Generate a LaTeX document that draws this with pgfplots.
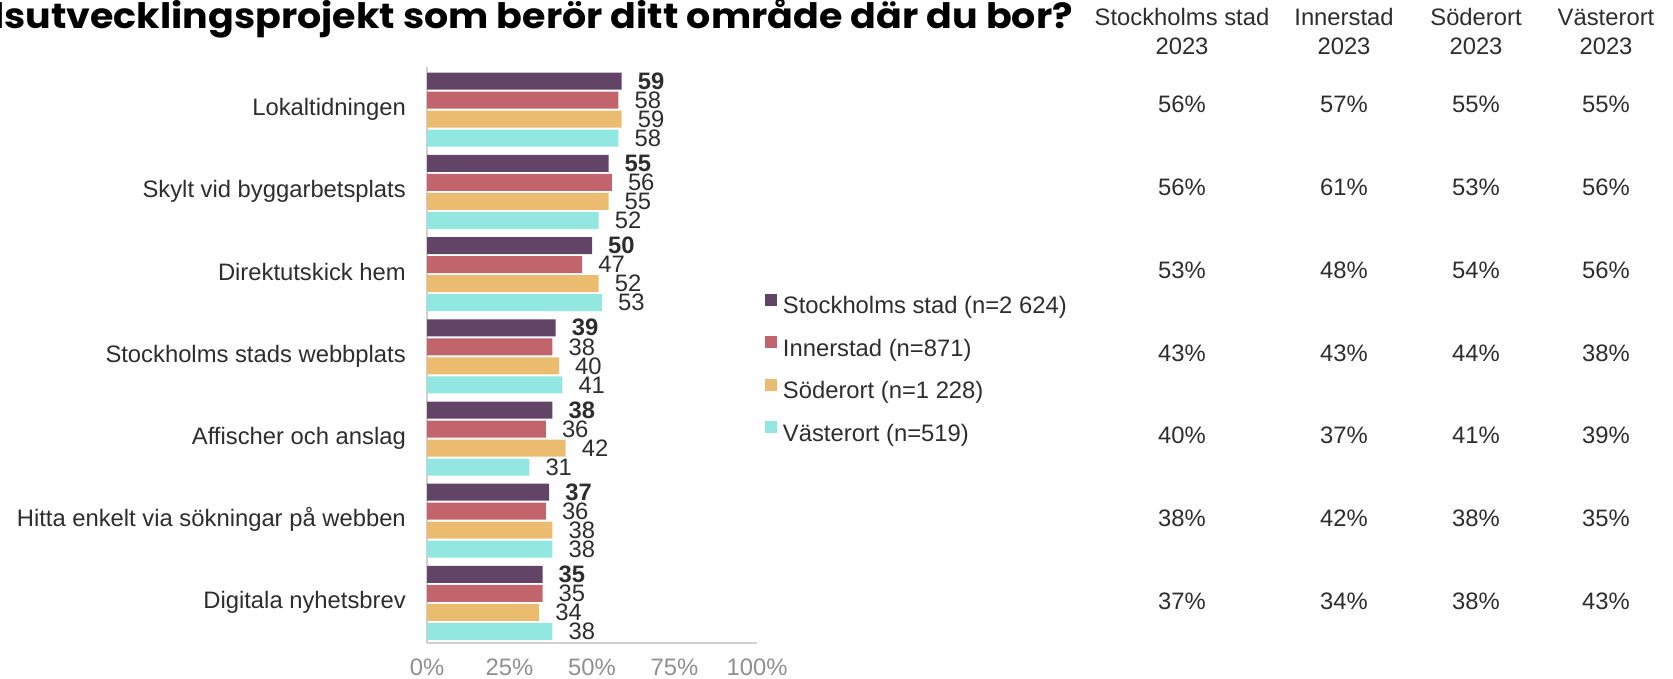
\documentclass[border=0pt]{standalone}
\usepackage{fontspec}
\setmainfont{Liberation Sans}
\newfontfamily\titlefont{Poppins}
\usepackage{pgfplots}
\usepackage{pgfplotstable}
\pgfplotsset{compat=1.18}

\definecolor{cSth}{HTML}{614466}
\definecolor{cInn}{HTML}{C1646C}
\definecolor{cSod}{HTML}{EBBB70}
\definecolor{cVas}{HTML}{93E7E1}
\definecolor{txt}{HTML}{2D2D2D}
\definecolor{tickgray}{HTML}{8F8F8F}
\definecolor{axgray}{HTML}{D0D0D0}

\newcommand\fs{\fontsize{23.8}{28}\selectfont}

\pgfplotstableread{
y sth inn sod vas
6 59 58 59 58
5 55 56 55 52
4 50 47 52 53
3 39 38 40 41
2 38 36 42 31
1 37 36 38 38
0 35 35 34 38
}\bardata

\newlength\titlewd
\begin{document}
\settowidth\titlewd{\titlefont\bfseries\fontsize{35}{40}\selectfont lsutvecklingsprojekt som berör ditt område där du bor?}%
\pgfmathsetmacro\txs{1079.5/\titlewd}%
\begin{tikzpicture}
\path[use as bounding box] (0pt,0pt) rectangle (1673pt,678pt);
\begin{axis}[
  at={(427pt,35pt)}, anchor=south west,
  xbar, scale only axis, width=330pt, height=576pt,
  xmin=0, xmax=100, ymin=-0.487, ymax=6.519,
  axis lines*=left,
  axis line style={draw=axgray, line width=1.5pt, -},
  xtick={0,25,50,75,100},
  xticklabels={0\%,25\%,50\%,75\%,100\%},
  xticklabel style={font=\fs, text=tickgray, anchor=base, inner sep=0pt, yshift=-32pt},
  ytick={0,1,2,3,4,5,6},
  yticklabels={Digitala nyhetsbrev,Hitta enkelt via sökningar på webben,Affischer och anslag,Stockholms stads webbplats,Direktutskick hem,Skylt vid byggarbetsplats,Lokaltidningen},
  yticklabel style={font=\fs, text=txt, anchor=east, inner sep=0pt, xshift=-21pt, text height=17pt, text depth=5pt},
  major tick length=0pt, tick style={draw=none},
  bar width=17pt,
  clip=false,
  point meta=x,
  /pgf/number format/assume math mode=true,
  nodes near coords={\pgfmathprintnumber[fixed,precision=0,assume math mode=true]{\pgfplotspointmeta}},
  every node near coord/.append style={anchor=west, inner sep=0pt, xshift=16pt, font=\fs, text=txt},
  legend style={at={(1.0242,0.6059)}, anchor=north west, draw=none, fill=none,
    inner sep=0pt, outer sep=0pt, font=\fs, text=txt, row sep=16.5pt, column sep=6pt,
    nodes={inner sep=0pt, text height=17pt, text depth=6pt}},
  legend image code/.code={\fill[#1, draw=none] (0pt,2.4pt) rectangle (12pt,14.4pt);},
  legend cell align=left,
]
\addplot[fill=cSth, draw=none, bar shift=28.5pt, every node near coord/.append style={font=\fs\bfseries}] table[x=sth, y=y] {\bardata};
\addlegendentry{Stockholms stad (n=2 624)}
\addplot[fill=cInn, draw=none, bar shift=9.5pt] table[x=inn, y=y] {\bardata};
\addlegendentry{Innerstad (n=871)}
\addplot[fill=cSod, draw=none, bar shift=-9.5pt] table[x=sod, y=y] {\bardata};
\addlegendentry{Söderort (n=1 228)}
\addplot[fill=cVas, draw=none, bar shift=-28.5pt] table[x=vas, y=y] {\bardata};
\addlegendentry{Västerort (n=519)}
\end{axis}

% title
\node[anchor=base east, inner sep=0pt, xscale=\txs, font=\titlefont\bfseries\fontsize{35}{40}\selectfont, text=black]
  at (1073pt,649pt) {lsutvecklingsprojekt som berör ditt område där du bor?};

% table headers
\foreach \cx/\hd in {1182/Stockholms stad,1344/Innerstad,1476/Söderort,1606/Västerort}{
  \node[anchor=base, inner sep=0pt, font=\fs, text=txt] at (\cx pt,652pt) {\hd};
  \node[anchor=base, inner sep=0pt, font=\fs, text=txt] at (\cx pt,623pt) {2023};
}
% table values
\foreach \r/\a/\b/\c/\d in {0/56/57/55/55,1/56/61/53/56,2/53/48/54/56,3/43/43/44/38,4/40/37/41/39,5/38/42/38/35,6/37/34/38/43}{
  \node[anchor=base, inner sep=0pt, font=\fs, text=txt] at (1182pt,{565pt-82.67pt*\r}) {\a\%};
  \node[anchor=base, inner sep=0pt, font=\fs, text=txt] at (1344pt,{565pt-82.67pt*\r}) {\b\%};
  \node[anchor=base, inner sep=0pt, font=\fs, text=txt] at (1476pt,{565pt-82.67pt*\r}) {\c\%};
  \node[anchor=base, inner sep=0pt, font=\fs, text=txt] at (1606pt,{565pt-82.67pt*\r}) {\d\%};
}
\end{tikzpicture}
\end{document}
